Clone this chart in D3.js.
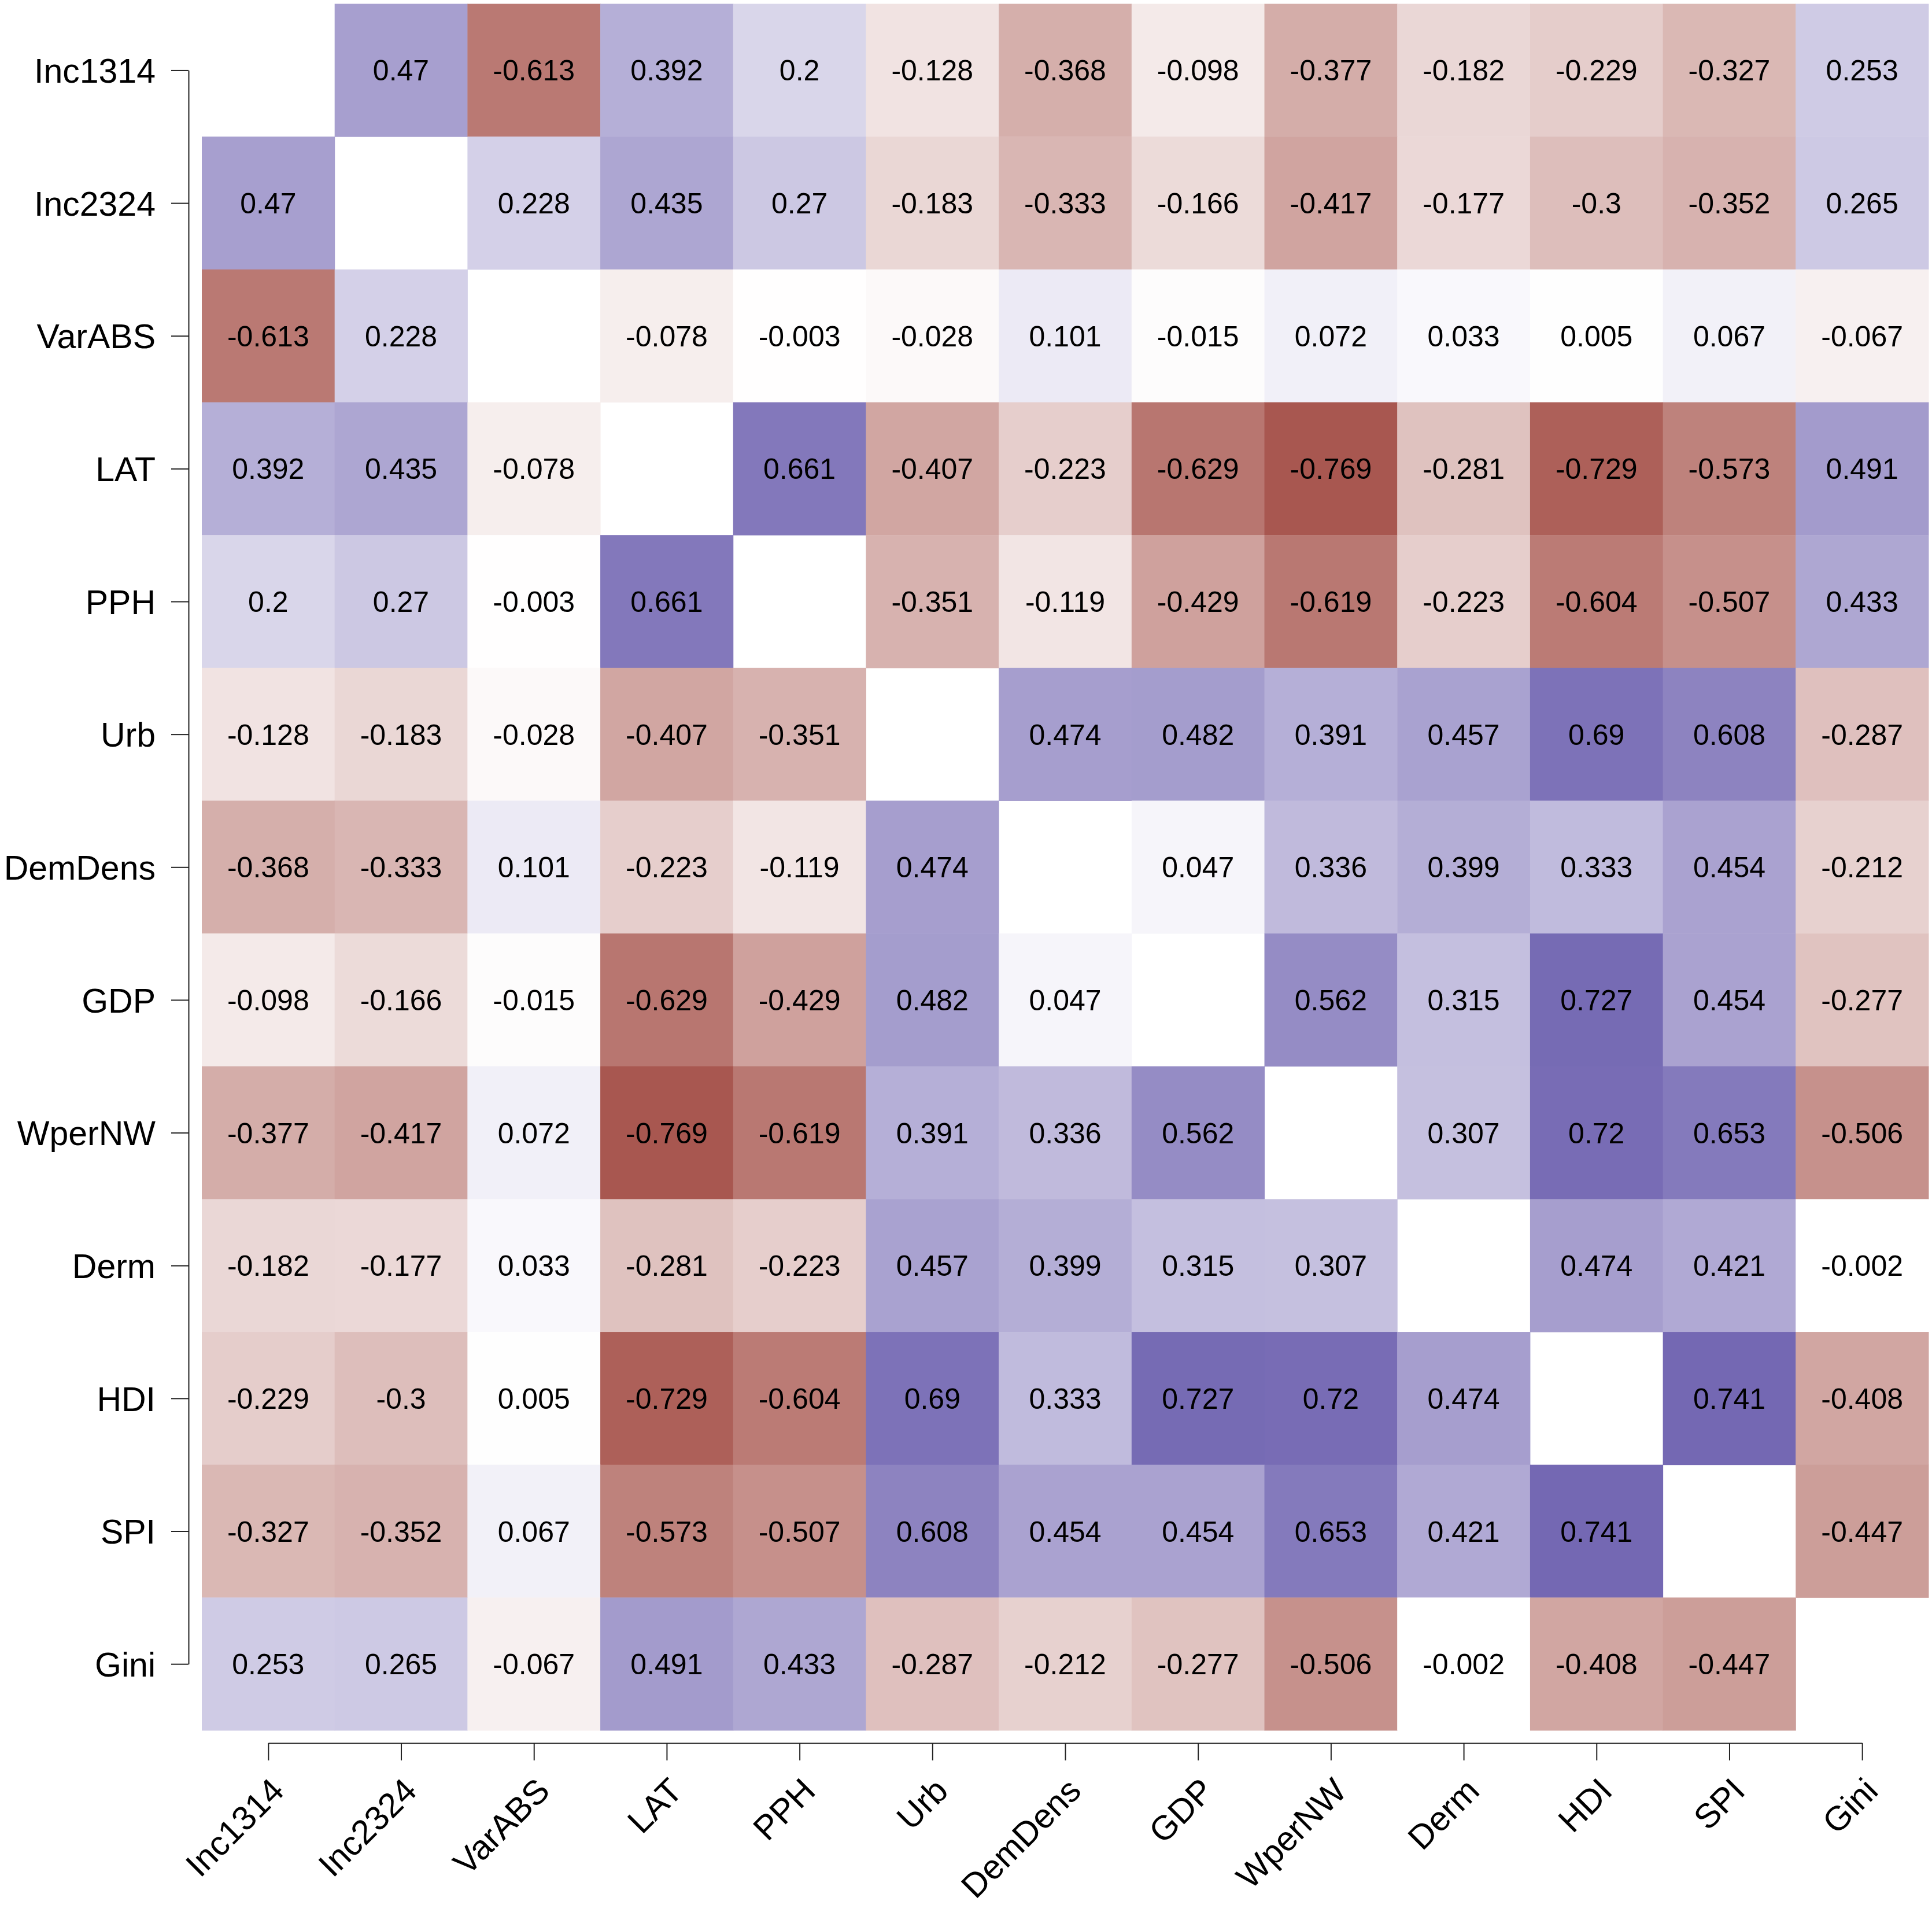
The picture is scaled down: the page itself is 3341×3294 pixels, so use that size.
<!DOCTYPE html>
<html>
<head>
    <meta charset="UTF-8">
    <title>correlation heatmap</title>
    <script src="https://cdn.jsdelivr.net/npm/d3@7"></script>
    <style>
        body{
            padding: 0;
            margin: 0;
            background: #fff;
        }
        .axis path,
        .axis line{
            fill: none;
            stroke: #222;
            stroke-width: 2;
        }
        .axis text{
            font-family: "Liberation Sans", Arial, sans-serif;
            font-size: 59px;
            fill: #000;
        }
        .cellText{
            font-family: "Liberation Sans", Arial, sans-serif;
            font-size: 50px;
            fill: #000;
        }
    </style>
</head>
<body>
<div class="first"></div>

<script>

    var vars = ["Inc1314","Inc2324","VarABS","LAT","PPH","Urb","DemDens","GDP","WperNW","Derm","HDI","SPI","Gini"];

    // one row per variable, null on the diagonal
    var rInc1314 = [null, 0.47, -0.613, 0.392, 0.2, -0.128, -0.368, -0.098, -0.377, -0.182, -0.229, -0.327, 0.253];
    var rInc2324 = [0.47, null, 0.228, 0.435, 0.27, -0.183, -0.333, -0.166, -0.417, -0.177, -0.3, -0.352, 0.265];
    var rVarABS  = [-0.613, 0.228, null, -0.078, -0.003, -0.028, 0.101, -0.015, 0.072, 0.033, 0.005, 0.067, -0.067];
    var rLAT     = [0.392, 0.435, -0.078, null, 0.661, -0.407, -0.223, -0.629, -0.769, -0.281, -0.729, -0.573, 0.491];
    var rPPH     = [0.2, 0.27, -0.003, 0.661, null, -0.351, -0.119, -0.429, -0.619, -0.223, -0.604, -0.507, 0.433];
    var rUrb     = [-0.128, -0.183, -0.028, -0.407, -0.351, null, 0.474, 0.482, 0.391, 0.457, 0.69, 0.608, -0.287];
    var rDemDens = [-0.368, -0.333, 0.101, -0.223, -0.119, 0.474, null, 0.047, 0.336, 0.399, 0.333, 0.454, -0.212];
    var rGDP     = [-0.098, -0.166, -0.015, -0.629, -0.429, 0.482, 0.047, null, 0.562, 0.315, 0.727, 0.454, -0.277];
    var rWperNW  = [-0.377, -0.417, 0.072, -0.769, -0.619, 0.391, 0.336, 0.562, null, 0.307, 0.72, 0.653, -0.506];
    var rDerm    = [-0.182, -0.177, 0.033, -0.281, -0.223, 0.457, 0.399, 0.315, 0.307, null, 0.474, 0.421, -0.002];
    var rHDI     = [-0.229, -0.3, 0.005, -0.729, -0.604, 0.69, 0.333, 0.727, 0.72, 0.474, null, 0.741, -0.408];
    var rSPI     = [-0.327, -0.352, 0.067, -0.573, -0.507, 0.608, 0.454, 0.454, 0.653, 0.421, 0.741, null, -0.447];
    var rGini    = [0.253, 0.265, -0.067, 0.491, 0.433, -0.287, -0.212, -0.277, -0.506, -0.002, -0.408, -0.447, null];

    var rows = [rInc1314, rInc2324, rVarABS, rLAT, rPPH, rUrb, rDemDens, rGDP, rWperNW, rDerm, rHDI, rSPI, rGini];

    var cells = [];
    rows.forEach(function(r, i){
        r.forEach(function(v, j){
            cells.push({row: vars[i], col: vars[j], v: v});
        });
    });

    var W = 3341, H = 3294;
    var plotL = 349, plotR = 3335, plotT = 6.6, plotB = 2992;

    var svg = d3.select(".first")
        .append("svg")
        .attr("width", W)
        .attr("height", H);

    var x = d3.scaleBand().domain(vars).range([plotL, plotR]);
    var y = d3.scaleBand().domain(vars).range([plotT, plotB]);

    // red - white - blue, linear in r
    var color = d3.scaleLinear()
        .domain([-1, 0, 1])
        .range(["#8e251b", "#ffffff", "#433398"]);

    var filled = cells.filter(function(d){ return d.v !== null; });

    svg.selectAll(".cell")
        .data(filled)
        .enter()
        .append("rect")
        .attr("class", "cell")
        .attr("x", function(d){ return x(d.col); })
        .attr("y", function(d){ return y(d.row); })
        .attr("width", x.bandwidth() + 0.5)
        .attr("height", y.bandwidth() + 0.5)
        .attr("fill", function(d){ return color(d.v); });

    svg.selectAll(".cellText")
        .data(filled)
        .enter()
        .append("text")
        .attr("class", "cellText")
        .attr("text-anchor", "middle")
        .attr("x", function(d){ return x(d.col) + x.bandwidth() / 2; })
        .attr("y", function(d){ return y(d.row) + y.bandwidth() / 2; })
        .attr("dy", "0.36em")
        .text(function(d){ return String(d.v); });

    // axes: line runs from first to last tick like base R
    var yAxisScale = d3.scalePoint().domain(vars)
        .range([plotT + y.bandwidth() / 2, plotB - y.bandwidth() / 2]);
    var xAxisScale = d3.scalePoint().domain(vars)
        .range([plotL + x.bandwidth() / 2, plotR - x.bandwidth() / 2]);

    svg.append("g")
        .attr("class", "axis")
        .attr("transform", "translate(326,0)")
        .call(d3.axisLeft(yAxisScale).tickSize(30).tickSizeOuter(0).tickPadding(27))
        .selectAll("text")
        .attr("dy", "0.36em");

    var gx = svg.append("g")
        .attr("class", "axis")
        .attr("transform", "translate(0,3014)")
        .call(d3.axisBottom(xAxisScale).tickSize(30).tickSizeOuter(0));

    gx.selectAll("text")
        .attr("x", 0)
        .attr("y", 0)
        .attr("dy", 0)
        .attr("text-anchor", "end")
        .attr("transform", "translate(30,86) rotate(-45)");

</script>
</body>
</html>
